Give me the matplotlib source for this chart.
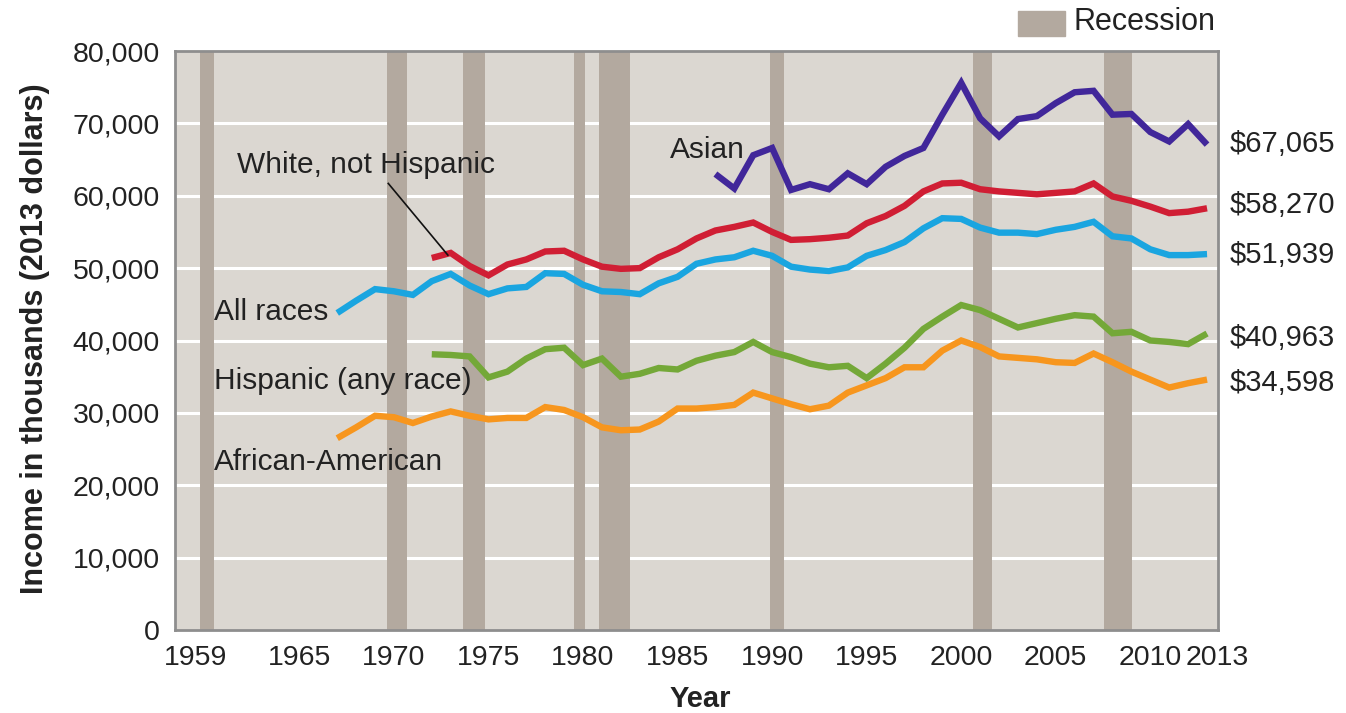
import matplotlib.pyplot as plt
import matplotlib.transforms as mtransforms
import numpy as np

plt.rcParams['font.family'] = ['Liberation Sans', 'DejaVu Sans']

# median household income, thousands of 2013 dollars
years_all = list(range(1967, 2014))
all_races = [43.8, 45.5, 47.1, 46.8, 46.3, 48.2, 49.2, 47.6, 46.4, 47.2,
             47.4, 49.3, 49.2, 47.7, 46.8, 46.7, 46.4, 47.9, 48.8, 50.6,
             51.2, 51.5, 52.4, 51.7, 50.2, 49.8, 49.6, 50.1, 51.7, 52.5,
             53.6, 55.5, 56.9, 56.8, 55.6, 54.9, 54.9, 54.7, 55.3, 55.7,
             56.4, 54.4, 54.1, 52.6, 51.8, 51.8, 51.939]
african_american = [26.5, 28.0, 29.6, 29.4, 28.6, 29.5, 30.2, 29.6, 29.1, 29.3,
                    29.3, 30.8, 30.4, 29.4, 28.0, 27.6, 27.7, 28.8, 30.6, 30.6,
                    30.8, 31.1, 32.8, 32.0, 31.2, 30.5, 31.0, 32.8, 33.8, 34.8,
                    36.3, 36.3, 38.6, 40.0, 39.1, 37.8, 37.6, 37.4, 37.0, 36.9,
                    38.2, 37.0, 35.7, 34.6, 33.5, 34.1, 34.598]

years_72 = list(range(1972, 2014))
white_not_hisp = [51.4, 52.1, 50.3, 49.0, 50.5, 51.2, 52.3, 52.4, 51.2, 50.2,
                  49.9, 50.0, 51.5, 52.6, 54.1, 55.2, 55.7, 56.3, 55.0, 53.9,
                  54.0, 54.2, 54.5, 56.2, 57.2, 58.6, 60.6, 61.7, 61.8, 60.9,
                  60.6, 60.4, 60.2, 60.4, 60.6, 61.7, 59.9, 59.3, 58.5, 57.6,
                  57.8, 58.27]
hispanic = [38.1, 38.0, 37.8, 34.9, 35.7, 37.5, 38.8, 39.0, 36.6, 37.5,
            35.0, 35.4, 36.2, 36.0, 37.2, 37.9, 38.4, 39.8, 38.4, 37.7,
            36.8, 36.3, 36.5, 34.8, 36.8, 39.0, 41.6, 43.3, 44.9, 44.2,
            43.0, 41.8, 42.4, 43.0, 43.5, 43.3, 41.0, 41.2, 40.0, 39.8,
            39.5, 40.963]

years_87 = list(range(1987, 2014))
asian = [63.0, 61.0, 65.6, 66.6, 60.8, 61.6, 60.9, 63.1, 61.6, 64.0,
         65.5, 66.6, 71.2, 75.6, 70.7, 68.2, 70.6, 71.0, 72.8, 74.3,
         74.5, 71.2, 71.3, 68.8, 67.5, 69.9, 67.065]

# recession spans as drawn (start, end)
recessions = [(1959.75, 1960.5), (1969.65, 1970.7), (1973.65, 1974.8),
              (1979.5, 1980.1), (1980.85, 1982.5), (1989.9, 1990.65),
              (2000.6, 2001.65), (2007.55, 2009.05)]

xticks = [1959, 1965, 1970, 1975, 1980, 1985, 1990, 1995, 2000, 2005, 2010, 2013]
yticks = list(range(0, 80001, 10000))

end_labels = ['$67,065', '$58,270', '$51,939', '$40,963', '$34,598']

fig = plt.figure(figsize=(13.46, 7.13), dpi=100)
ax = fig.add_axes([175 / 1346, 1 - 630 / 713, (1218 - 175) / 1346, (630 - 51) / 713])
ax.set_facecolor('#dbd7d1')

for yv in yticks[1:-1]:
    ax.axhline(yv, color='white', lw=2.2, zorder=1)
for a, b in recessions:
    ax.axvspan(a, b, color='#b3a99f', lw=0, zorder=2)

series = [
    (years_87, asian, '#41279a'),
    (years_72, white_not_hisp, '#d01e34'),
    (years_all, all_races, '#1aa5e0'),
    (years_72, hispanic, '#74a838'),
    (years_all, african_american, '#f7961e'),
]
for xs, ys, c in series:
    ax.plot(xs, np.array(ys) * 1000, color=c, lw=4.6, zorder=3,
            solid_joinstyle='miter', solid_capstyle='butt')

ax.set_xlim(1958.42, 2013.58)
ax.set_ylim(0, 80000)
ax.set_xticks(xticks)
ax.set_xticklabels([str(t) for t in xticks])
ax.set_yticks(yticks)
ax.set_yticklabels([f'{v:,}' for v in yticks])
ax.tick_params(length=0, labelsize=20.5, pad=11, colors='#222222')
for s in ax.spines.values():
    s.set_color('#8e8e8e')
    s.set_linewidth(2)

# first and last year labels sit a bit to the right
xl = ax.get_xticklabels()
shift = mtransforms.ScaledTranslation(0.10, 0, fig.dpi_scale_trans)
xl[0].set_transform(xl[0].get_transform() + shift)
xl[-1].set_transform(xl[-1].get_transform() + shift)

# series labels
lab = dict(fontsize=21.5, color='#222222', zorder=4, ha='left', va='center')
ax.text(1984.6, 66300, 'Asian', **lab)
ax.text(1961.7, 64200, 'White, not Hispanic', **lab)
ax.plot([1969.7, 1972.85], [61700, 51800], color='#111111', lw=1.2, zorder=4)
ax.text(1960.5, 44000, 'All races', **lab)
ax.text(1960.5, 34400, 'Hispanic (any race)', **lab)
ax.text(1960.5, 23200, 'African-American', **lab)

# end values
end_pos = [67200, 58700, 51800, 40300, 34100]
for yv, s in zip(end_pos, end_labels):
    ax.text(2014.2, yv, s, ha='left', va='center', fontsize=21,
            color='#222222', clip_on=False)

# recession legend
fig.patches.append(plt.Rectangle((1018 / 1346, 1 - 36 / 713), 47 / 1346, 25 / 713,
                                 transform=fig.transFigure, color='#b3a99f'))
fig.text(1073 / 1346, 1 - 22 / 713, 'Recession', fontsize=22, va='center',
         color='#222222')

fig.text(35 / 1346, 0.525, 'Income in thousands (2013 dollars)', rotation=90,
         fontsize=22, fontweight='bold', ha='center', va='center', color='#222222')
fig.text(700 / 1346, 0.02, 'Year', fontsize=21, fontweight='bold',
         ha='center', va='center', color='#222222')

fig.savefig('out.png', dpi=100)
